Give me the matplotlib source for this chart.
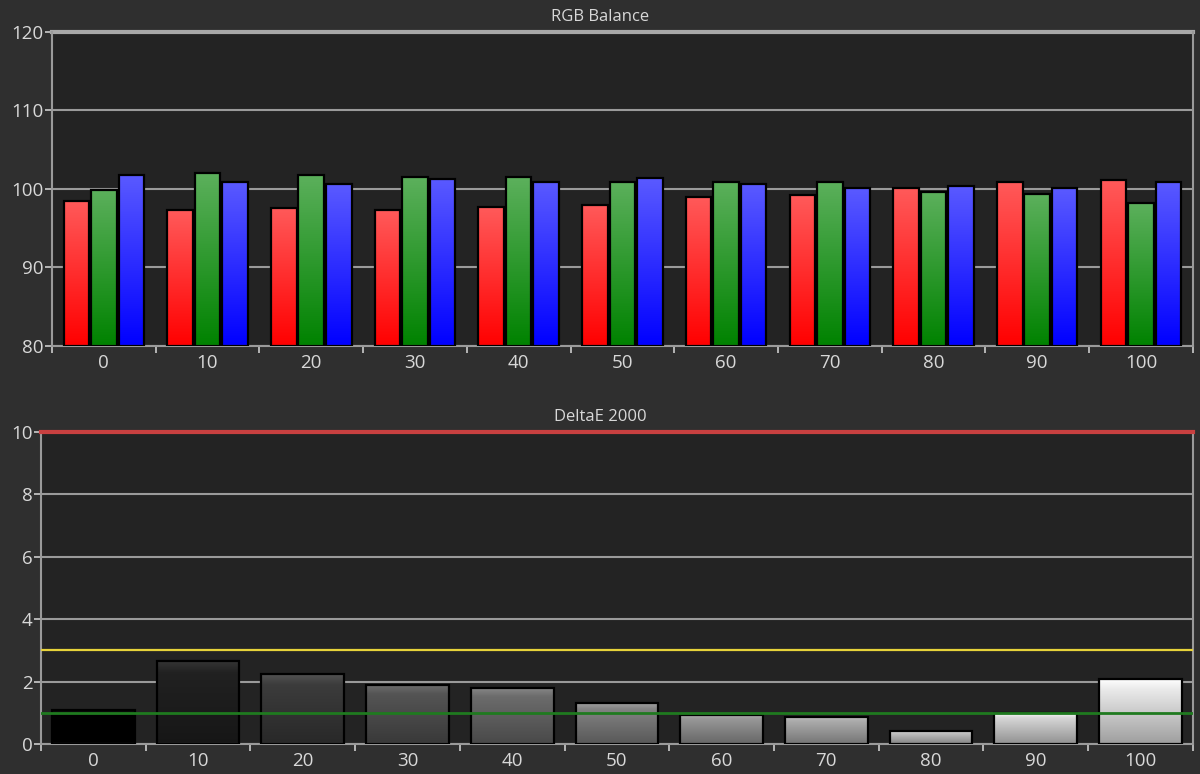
import matplotlib
matplotlib.use("Agg")
import matplotlib.pyplot as plt
import numpy as np
from matplotlib.colors import to_rgb

############
# DATA
############

levels = [0, 10, 20, 30, 40, 50, 60, 70, 80, 90, 100]
red = [98.5, 97.3, 97.6, 97.3, 97.7, 98.0, 99.0, 99.2, 100.1, 100.9, 101.1]
green = [99.9, 102.0, 101.8, 101.5, 101.5, 100.9, 100.9, 100.9, 99.6, 99.3, 98.2]
blue = [101.8, 100.9, 100.6, 101.3, 100.9, 101.4, 100.6, 100.1, 100.4, 100.1, 100.9]
deltaE = [1.09, 2.67, 2.24, 1.89, 1.79, 1.31, 0.93, 0.87, 0.40, 0.99, 2.08]
rgb_ticks = [80, 90, 100, 110, 120]
de_ticks = [0, 2, 4, 6, 8, 10]
de_limits = [1, 3, 10]

plt.rcParams['font.family'] = ['Open Sans', 'DejaVu Sans']

BG = '#2f2f2f'
PANEL = '#232323'
GRID = '#9a9a9a'
TXT = '#d8d8d8'


def gradient_fill(ax, patch, top, bottom, mid=None):
    # fills a bar patch with a vertical gradient (bottom -> top)
    x, y = patch.get_x(), patch.get_y()
    w, h = patch.get_width(), patch.get_height()
    t = np.linspace(0, 1, 200)[:, None]
    c0 = np.array(to_rgb(bottom))
    c1 = np.array(to_rgb(top))
    if mid is None:
        col = c0 + (c1 - c0) * t
    else:
        cm = np.array(to_rgb(mid))
        col = np.where(t < 0.85, c0 + (cm - c0) * (t / 0.85), cm + (c1 - cm) * ((t - 0.85) / 0.15))
    img = col[:, None, :]
    im = ax.imshow(img, extent=[x, x + w, y, y + h], origin='lower', aspect='auto', zorder=2,
                   interpolation='bilinear')
    im.set_clip_path(patch)


def style_axes(ax, n):
    ax.set_facecolor(PANEL)
    ax.set_xlim(-0.5, n - 0.5)
    ax.set_xticks(range(n))
    ax.set_xticklabels([str(v) for v in levels])
    ax.set_xticks(np.arange(-0.5, n, 1.0), minor=True)
    ax.tick_params(axis='x', which='major', length=0, pad=6, labelsize=13.5, colors=TXT)
    ax.tick_params(axis='x', which='minor', length=5, width=1.2, color='#cccccc', direction='out')
    ax.tick_params(axis='y', length=5, width=1.2, color='#cccccc', labelsize=13.5, labelcolor=TXT, pad=1)
    ax.yaxis.grid(True, color=GRID, linewidth=1.5)
    ax.set_axisbelow(True)
    for s in ['left', 'right', 'bottom']:
        ax.spines[s].set_color(GRID)
        ax.spines[s].set_linewidth(1.5)
    ax.spines['top'].set_visible(False)


fig = plt.figure(figsize=(12, 7.74), dpi=100, facecolor=BG)

############
# RGB Balance
############

ax1 = fig.add_axes([0.0433, 0.553, 0.9507, 0.4057])
style_axes(ax1, len(levels))
ax1.set_ylim(rgb_ticks[0], rgb_ticks[-1])
ax1.set_yticks(rgb_ticks)
ax1.axhline(rgb_ticks[-1], color='#a8a8a8', linewidth=3, zorder=1, clip_on=False)

x = np.arange(len(levels))
bw = 0.265
series = [(red, -bw, '#ff5a5a', '#ff0000', '#300000'),
          (green, 0, '#5cb05c', '#008200', '#001a00'),
          (blue, bw, '#5a5aff', '#0000ff', '#000030')]
for vals, off, ctop, cbot, edge in series:
    vals = np.array(vals)
    bars = ax1.bar(x + off, vals - rgb_ticks[0], bottom=rgb_ticks[0], width=bw * 0.93,
                   facecolor='none', edgecolor='black', linewidth=1.6, zorder=3)
    for p in bars:
        gradient_fill(ax1, p, ctop, cbot)
ax1.set_xlim(-0.5, len(levels) - 0.5)
ax1.set_ylim(rgb_ticks[0], rgb_ticks[-1])

fig.text(0.5, 0.978, 'RGB Balance', ha='center', va='center', fontsize=12, color=TXT)

############
# DeltaE 2000
############

ax2 = fig.add_axes([0.0342, 0.0388, 0.9598, 0.4031])
style_axes(ax2, len(levels))
ax2.set_ylim(de_ticks[0], de_ticks[-1])
ax2.set_yticks(de_ticks)

bars = ax2.bar(x, deltaE, width=0.79, facecolor='none', edgecolor='black', linewidth=1.6, zorder=3)
for p, lv in zip(bars, levels):
    g = (lv / 100.0) ** 0.85
    top = min(1.0, g * 1.0 + 0.07)
    mid = g * 0.92
    bot = g * 0.62
    gradient_fill(ax2, p, (top, top, top), (bot, bot, bot), mid=(mid, mid, mid))
ax2.set_xlim(-0.5, len(levels) - 0.5)
ax2.set_ylim(de_ticks[0], de_ticks[-1])

ax2.axhline(de_limits[0], color='#1f7a1f', linewidth=2, zorder=4)
ax2.axhline(de_limits[1], color='#e6d23a', linewidth=1.6, zorder=4)
ax2.axhline(de_limits[2], color='#c84040', linewidth=3, zorder=4, clip_on=False)

fig.text(0.5, 0.461, 'DeltaE 2000', ha='center', va='center', fontsize=12, color=TXT)

fig.savefig('out.png', dpi=100, facecolor=BG)
